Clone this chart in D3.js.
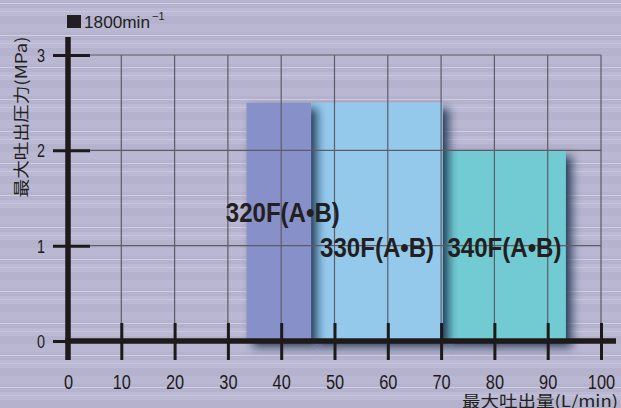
<!DOCTYPE html>
<html>
<head>
<meta charset="utf-8">
<script src="https://cdn.jsdelivr.net/npm/d3@7/dist/d3.min.js"></script>
<style>
  html, body { margin: 0; padding: 0; background: #b7b5d0; }
  svg { display: block; }
</style>
</head>
<body>
<svg id="chart" width="621" height="408"></svg>
<script>
// Pump models and their operating envelope at 1800 min^-1
const models    = ["320F(A•B)", "330F(A•B)", "340F(A•B)"];
const flowMin   = [33.5, 45.6, 70.3];   // L/min
const flowMax   = [45.6, 70.3, 93.4];   // L/min
const pressure  = [2.5, 2.5, 2.0];      // MPa
const barColors = ["#8890c9", "#95c9ec", "#72cbd3"];

const xTicks = [0, 10, 20, 30, 40, 50, 60, 70, 80, 90, 100];
const yTicks = [0, 1, 2, 3];

const speedLabel = "1800min";
const xTitle = "最大吐出量(L/min)";
const yTitle = "最大吐出圧力(MPa)";

// label anchors in data units (flow, pressure)
const labelAt = [[29.6, 1.25], [47.3, 0.88], [71.2, 0.88]];

const svg = d3.select("#chart");
const W = 621, H = 408;

const x = d3.scaleLinear().domain([0, 100]).range([68, 601]);
const y = d3.scaleLinear().domain([0, 3]).range([341, 55]);

const defs = svg.append("defs");

// striped backdrop
const pat = defs.append("pattern")
  .attr("id", "stripes").attr("patternUnits", "userSpaceOnUse")
  .attr("width", 8).attr("height", 32);
pat.append("rect").attr("width", 8).attr("height", 32).attr("fill", "#b4b2cd");
pat.append("rect").attr("y", 8).attr("width", 8).attr("height", 8).attr("fill", "#bbb9d4");
pat.append("rect").attr("y", 24).attr("width", 8).attr("height", 8).attr("fill", "#b9b7d2");
pat.append("rect").attr("y", 3).attr("width", 8).attr("height", 1).attr("fill", "#d4d3e6").attr("opacity", 0.8);
pat.append("rect").attr("y", 11).attr("width", 8).attr("height", 1).attr("fill", "#d0cfe3").attr("opacity", 0.6);

svg.append("rect").attr("width", W).attr("height", H).attr("fill", "url(#stripes)");

// soft drop shadow for the bars
const f = defs.append("filter").attr("id", "shadow")
  .attr("x", "-20%").attr("y", "-10%").attr("width", "150%").attr("height", "140%");
f.append("feGaussianBlur").attr("in", "SourceAlpha").attr("stdDeviation", 5).attr("result", "b");
f.append("feOffset").attr("in", "b").attr("dx", 6).attr("dy", 6).attr("result", "o");
f.append("feFlood").attr("flood-color", "#142a46").attr("flood-opacity", 0.85);
f.append("feComposite").attr("in2", "o").attr("operator", "in").attr("result", "s");
const m = f.append("feMerge");
m.append("feMergeNode").attr("in", "s");
m.append("feMergeNode").attr("in", "SourceGraphic");

// bars: drawn right-to-left so each shadow falls on its neighbour
const order = d3.range(models.length).reverse();
svg.append("g").selectAll("rect").data(order).join("rect")
  .attr("x", i => x(flowMin[i]))
  .attr("y", i => y(pressure[i]))
  .attr("width", i => x(flowMax[i]) - x(flowMin[i]))
  .attr("height", i => y(0) - y(pressure[i]))
  .attr("fill", i => barColors[i])
  .attr("filter", "url(#shadow)");

// grid on top of the bars
const grid = svg.append("g").attr("stroke", "#5c5c66").attr("stroke-width", 1.2);
grid.selectAll(".v").data(xTicks.slice(1)).join("line")
  .attr("x1", d => x(d)).attr("x2", d => x(d))
  .attr("y1", y(3)).attr("y2", y(0));
grid.selectAll(".h").data(yTicks.slice(1)).join("line")
  .attr("x1", x(0)).attr("x2", x(100))
  .attr("y1", d => y(d)).attr("y2", d => y(d));

// x axis
const xAxis = svg.append("g").attr("transform", `translate(0,${y(0)})`)
  .call(d3.axisBottom(x).tickValues(xTicks).tickFormat(d3.format("d")).tickSize(19).tickPadding(0));
xAxis.select(".domain").remove();
xAxis.selectAll(".tick line")
  .attr("y1", -18).attr("y2", 19)
  .attr("stroke", "#1e1a1a").attr("stroke-width", 3);
xAxis.selectAll(".tick text")
  .attr("y", 0).attr("dy", 0)
  .attr("fill", "#1e1a1a")
  .style("font", "21px 'Liberation Sans', Arial, sans-serif")
  .attr("transform", "translate(0,48) scale(0.78,1)");
svg.append("line")
  .attr("x1", 65).attr("x2", 616).attr("y1", y(0)).attr("y2", y(0))
  .attr("stroke", "#1e1a1a").attr("stroke-width", 5.5);

// y axis
const yAxis = svg.append("g").attr("transform", `translate(${x(0)},0)`)
  .call(d3.axisLeft(y).tickValues(yTicks).tickFormat(d3.format("d")).tickSize(0).tickPadding(0));
yAxis.select(".domain").remove();
yAxis.selectAll(".tick line")
  .attr("x1", -15).attr("x2", 22)
  .attr("stroke", "#1e1a1a").attr("stroke-width", 3);
yAxis.selectAll(".tick text")
  .attr("x", 0).attr("dy", "0.36em")
  .attr("fill", "#1e1a1a")
  .style("font", "18px 'Liberation Sans', Arial, sans-serif")
  .attr("text-anchor", "end")
  .attr("transform", "translate(-23,0) scale(0.8,1)");
svg.append("line")
  .attr("x1", x(0)).attr("x2", x(0)).attr("y1", 37).attr("y2", 360)
  .attr("stroke", "#1e1a1a").attr("stroke-width", 5.5);

// model labels
svg.append("g").selectAll("text").data(d3.range(models.length)).join("text")
  .attr("x", i => x(labelAt[i][0]))
  .attr("y", i => y(labelAt[i][1]))
  .attr("textLength", 114).attr("lengthAdjust", "spacingAndGlyphs")
  .attr("fill", "#231f20")
  .style("font", "bold 28px 'Liberation Sans', Arial, sans-serif")
  .text(i => models[i]);

// axis titles
svg.append("text")
  .attr("x", 618).attr("y", 407).attr("text-anchor", "end")
  .attr("textLength", 156).attr("lengthAdjust", "spacingAndGlyphs")
  .attr("fill", "#231f20")
  .style("font", "16px 'Noto Sans CJK JP', sans-serif")
  .text(xTitle);

svg.append("text")
  .attr("transform", "translate(27,117) rotate(-90)")
  .attr("text-anchor", "middle")
  .attr("textLength", 161).attr("lengthAdjust", "spacingAndGlyphs")
  .attr("fill", "#231f20")
  .style("font", "16px 'Noto Sans CJK JP', sans-serif")
  .text(yTitle);

// rotational speed tag
svg.append("rect").attr("x", 67).attr("y", 15).attr("width", 14).attr("height", 13).attr("fill", "#231f20");
const sp = svg.append("text")
  .attr("x", 84).attr("y", 28)
  .attr("fill", "#231f20")
  .style("font", "17px 'Liberation Sans', Arial, sans-serif");
sp.append("tspan").attr("textLength", 66).attr("lengthAdjust", "spacingAndGlyphs").text(speedLabel);
sp.append("tspan").attr("dx", 2).attr("dy", -8).style("font-size", "11px").text("−1");
</script>
</body>
</html>
